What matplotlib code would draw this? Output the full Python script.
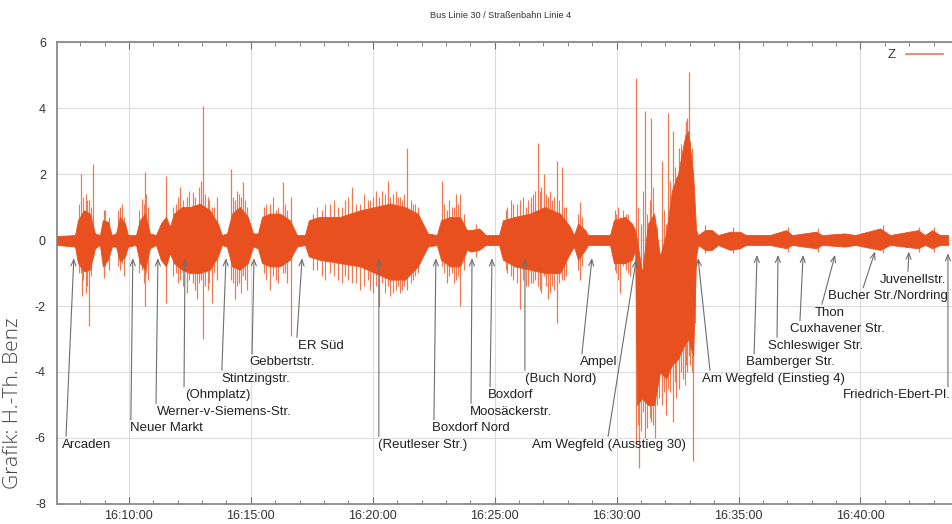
import matplotlib
matplotlib.use("Agg")
import matplotlib.pyplot as plt
from matplotlib.lines import Line2D
from matplotlib.ticker import MultipleLocator, FuncFormatter

plt.rcParams["font.family"] = ["Liberation Sans", "DejaVu Sans"]
plt.rcParams["axes.unicode_minus"] = False

# time axis: minutes after 16:00:00
# envelope of the dense vibration band (Z acceleration)
env_t = [7.05, 7.79, 7.91, 8.15, 8.40, 8.61, 8.81, 8.93, 9.14, 9.30, 9.47, 9.63,
         9.84, 9.96, 10.29, 10.45, 10.66, 10.86, 11.11, 11.31, 11.52, 11.68, 11.85,
         12.17, 12.50, 12.91, 13.32, 13.65, 13.81, 14.02, 14.23, 14.55, 14.88, 15.09,
         15.29, 15.46, 15.78, 16.19, 16.60, 16.89, 17.22, 17.38, 17.83, 18.66, 19.48,
         20.09, 20.71, 21.32, 21.85, 22.26, 22.63, 22.80, 23.17, 23.58, 23.86, 24.03,
         24.36, 24.64, 25.18, 25.34, 25.83, 26.45, 27.06, 27.68, 28.09, 28.25, 28.42,
         28.71, 28.83, 29.73, 29.89, 30.35, 30.63, 30.76, 30.84, 31.04, 31.29, 31.54,
         31.78, 32.03, 32.27, 32.52, 32.77, 32.93, 33.14, 33.26, 33.34, 33.63, 33.91,
         34.16, 34.65, 35.06, 35.31, 36.29, 36.95, 37.20, 38.18, 38.43, 39.37, 39.78,
         40.81, 41.22, 42.36, 42.65, 42.94, 43.27, 43.60]
env_hi = [0.12, 0.15, 0.6, 0.9, 0.8, 0.2, 0.15, 0.6, 0.55, 0.15, 0.2, 0.7,
          0.5, 0.15, 0.15, 0.6, 0.8, 0.2, 0.15, 0.5, 0.7, 0.4, 0.8,
          1.0, 1.0, 1.1, 0.9, 0.5, 0.15, 0.2, 0.8, 1.0, 0.7, 0.2,
          0.2, 0.7, 0.8, 0.8, 0.6, 0.15, 0.15, 0.6, 0.7, 0.7, 0.9,
          1.0, 1.1, 1.0, 0.8, 0.2, 0.15, 0.6, 0.7, 0.7, 0.3, 0.3,
          0.35, 0.15, 0.15, 0.6, 0.7, 0.8, 1.0, 0.8, 0.4, 0.15, 0.5,
          0.3, 0.15, 0.15, 0.6, 0.7, 0.5, 0.3, 0.0, -1.0, 0.5, 0.8,
          -0.5, 0.2, 1.5, 2.0, 3.0, 3.3, 2.0, 0.3, 0.15, 0.3, 0.3,
          0.15, 0.25, 0.25, 0.15, 0.15, 0.3, 0.15, 0.25, 0.15, 0.2, 0.15,
          0.35, 0.15, 0.3, 0.15, 0.3, 0.15, 0.15]
env_lo = [-0.15, -0.2, -0.7, -0.95, -0.9, -0.25, -0.15, -0.8, -0.6, -0.2, -0.2, -0.65,
          -0.5, -0.2, -0.15, -0.7, -0.9, -0.25, -0.15, -0.6, -0.8, -0.4, -0.7,
          -0.9, -1.0, -1.0, -0.9, -0.5, -0.15, -0.2, -0.8, -0.9, -0.7, -0.2,
          -0.25, -0.7, -0.8, -0.8, -0.6, -0.2, -0.15, -0.5, -0.6, -0.7, -0.8,
          -1.0, -1.2, -1.2, -0.8, -0.2, -0.15, -0.6, -0.8, -0.8, -0.3, -0.35,
          -0.3, -0.15, -0.15, -0.6, -0.8, -0.9, -1.0, -1.0, -0.4, -0.2, -0.6,
          -0.3, -0.15, -0.15, -0.7, -0.7, -0.6, -0.3, -5.0, -4.8, -5.0, -5.0,
          -4.0, -4.2, -3.8, -3.6, -3.2, -3.0, -3.5, -0.5, -0.15, -0.3, -0.3,
          -0.15, -0.3, -0.25, -0.15, -0.15, -0.25, -0.15, -0.25, -0.15, -0.2, -0.15,
          -0.3, -0.15, -0.25, -0.15, -0.25, -0.15, -0.15]

# single peaks sticking out of the band
spike_t = [8.03, 8.07, 8.24, 8.36, 8.52, 8.97, 9.18, 9.63, 9.79, 10.53, 10.66, 10.78,
           11.39, 11.52, 11.93, 12.09, 12.38, 12.63, 12.79, 12.95, 13.04, 13.24, 13.40,
           13.61, 14.18, 14.35, 14.51, 14.68, 14.84, 15.54, 15.78, 16.03, 16.32, 16.48,
           16.65, 17.55, 17.92, 18.25, 18.57, 18.86, 19.15, 19.48, 19.80, 20.01, 20.26,
           20.38, 20.62, 20.83, 21.03, 21.20, 21.40, 21.65, 21.85, 22.84, 23.04, 23.25,
           23.41, 23.58, 23.74, 24.23, 25.51, 25.75, 26.04, 26.29, 26.49, 26.65, 26.78,
           26.90, 27.02, 27.19, 27.35, 27.56, 27.76, 27.93, 28.50, 29.98, 30.14, 30.39,
           30.55, 30.80, 30.92, 31.17, 31.41, 31.58, 31.86, 32.03, 32.11, 32.31, 32.56,
           32.72, 32.85, 32.89, 32.97, 33.09, 33.14, 33.63, 34.78, 37.03, 38.26, 40.93,
           42.41, 43.02]
spike_hi = [2.0, 0.8, 1.4, 1.2, 2.3, 0.9, 0.7, 1.0, 0.7, 1.25, 2.05, 1.0,
            0.6, 1.95, 1.1, 1.6, 1.3, 1.45, 1.0, 1.8, 4.05, 1.3, 1.0,
            1.3, 2.15, 1.2, 1.4, 1.75, 1.0, 1.0, 1.1, 0.9, 1.75, 0.9,
            1.3, 0.8, 0.9, 1.1, 1.0, 1.2, 1.6, 1.1, 1.2, 1.3, 1.3,
            1.5, 1.8, 1.4, 1.3, 1.2, 2.8, 1.1, 1.0, 1.8, 0.9, 1.0,
            1.4, 1.4, 0.8, 0.5, 1.0, 1.1, 1.2, 1.0, 1.3, 1.5, 2.95,
            1.6, 2.0, 1.3, 1.2, 2.4, 2.2, 1.0, 1.15, 0.8, 0.7, 0.8,
            0.5, 4.9, -1.0, 3.9, 3.7, 0.5, 2.4, 0.5, 3.85, 3.3, 2.8,
            2.7, 3.6, 3.7, 5.1, 2.8, 1.5, 0.45, 0.4, 0.4, 0.35, 0.45,
            0.4, 0.4]
spike_lo = [-1.0, -1.7, -1.6, -2.6, -0.5, -1.15, -0.9, -0.9, -1.1, -0.9, -2.0, -1.2,
            -0.6, -1.9, -1.0, -1.2, -1.6, -1.3, -1.8, -1.2, -3.0, -1.5, -1.9,
            -1.2, -1.2, -1.8, -1.3, -1.1, -1.5, -1.0, -1.5, -1.2, -1.0, -1.3,
            -2.9, -0.9, -1.1, -1.0, -1.2, -1.1, -1.3, -1.5, -1.2, -1.6, -2.0,
            -1.3, -1.4, -1.6, -1.4, -1.5, -1.5, -1.2, -1.0, -0.8, -1.3, -1.0,
            -1.2, -2.0, -0.9, -0.5, -1.0, -1.2, -2.1, -1.4, -1.3, -1.2, -1.4,
            -1.6, -1.1, -1.8, -1.4, -2.5, -1.2, -1.1, -1.2, -1.0, -1.6, -0.9,
            -1.1, -6.2, -6.9, -6.0, -5.5, -6.0, -5.0, -5.3, -4.5, -5.5, -4.5,
            -4.2, -3.8, -4.0, -3.5, -4.0, -6.7, -0.4, -0.4, -0.35, -0.35, -0.4,
            -0.35, -0.35]

# shorter hairs along the band edges
hair_t = [7.95, 8.12, 8.30, 8.45, 9.03, 9.55, 9.70, 10.40, 10.60, 10.72,
          11.80, 12.00, 12.22, 12.45, 12.70, 12.87, 13.12, 13.30, 13.50,
          14.28, 14.42, 14.60, 14.76, 15.62, 15.90, 16.10, 16.40,
          17.70, 18.05, 18.40, 18.72, 19.00, 19.30, 19.65, 19.90, 20.15, 20.50,
          20.72, 20.95, 21.12, 21.30, 21.55, 21.75, 22.92, 23.12, 23.33, 23.50,
          25.45, 25.65, 25.90, 26.15, 26.38, 26.58, 26.85, 27.10, 27.27, 27.45,
          27.65, 27.85, 28.40, 28.60, 29.92, 30.05, 30.25, 30.47,
          30.86, 31.00, 31.10, 31.23, 31.35, 31.48, 31.65, 31.72, 31.93, 32.18,
          32.40, 32.45, 32.65, 32.80, 33.03, 33.20]
hair_hi = [1.1, 1.3, 1.2, 1.0, 0.9, 0.9, 1.1, 0.9, 1.1, 1.4,
           1.0, 1.3, 1.2, 1.5, 1.3, 1.6, 1.4, 1.2, 1.0,
           1.3, 1.5, 1.3, 1.2, 1.1, 1.3, 1.0, 1.1,
           1.0, 1.1, 1.2, 1.0, 1.3, 1.1, 1.4, 1.2, 1.5, 1.4,
           1.3, 1.5, 1.3, 1.4, 1.2, 1.1, 1.1, 1.2, 1.0, 1.1,
           0.9, 1.2, 1.1, 1.3, 1.2, 1.4, 1.5, 1.4, 1.5, 1.3,
           1.2, 1.0, 0.8, 0.7, 0.9, 1.0, 0.9, 0.8,
           1.0, 0.5, 1.5, 0.8, 1.2, 1.6, 0.4, -0.5, 0.9, 1.8,
           2.2, 1.9, 2.9, 3.2, 3.0, 0.6]
hair_lo = [-1.0, -1.2, -1.4, -1.1, -0.8, -0.8, -0.7, -1.0, -1.3, -1.0,
           -1.1, -1.3, -1.4, -1.2, -1.5, -1.3, -1.4, -1.3, -1.0,
           -1.3, -1.4, -1.6, -1.2, -1.2, -1.1, -1.3, -1.0,
           -0.9, -1.2, -1.1, -1.3, -1.2, -1.3, -1.4, -1.5, -1.4, -1.6,
           -1.7, -1.5, -1.6, -1.4, -1.3, -1.1, -1.0, -1.1, -1.3, -1.1,
           -0.9, -1.1, -1.3, -1.2, -1.4, -1.3, -1.5, -1.4, -1.6, -1.5,
           -1.3, -1.2, -0.9, -0.8, -0.9, -1.2, -0.8, -1.0,
           -5.6, -5.8, -5.2, -5.7, -5.4, -5.6, -5.0, -4.8, -4.6, -4.6,
           -4.3, -4.8, -4.0, -4.4, -3.8, -2.5]

# stops along the route
stops = ["Arcaden", "Neuer Markt", "Werner-v-Siemens-Str.", "(Ohmplatz)",
         "Stintzingstr.", "Gebbertstr.", "ER Süd", "(Reutleser Str.)",
         "Boxdorf Nord", "Moosäckerstr.", "Boxdorf", "(Buch Nord)", "Ampel",
         "Am Wegfeld (Ausstieg 30)", "Am Wegfeld (Einstieg 4)", "Bamberger Str.",
         "Schleswiger Str.", "Cuxhavener Str.", "Thon", "Bucher Str./Nordring",
         "Juvenellstr.", "Friedrich-Ebert-Pl."]
stop_t = [7.74, 10.16, 11.19, 12.30, 13.98, 15.13, 17.10, 20.25, 22.59, 24.07,
          24.89, 26.24, 28.99, 30.80, 33.34, 35.76, 36.62, 37.65, 38.96, 40.60,
          41.99, 43.59]

# label layout (text anchor, arrow start, arrow end height)
lab_x = [7.25, 10.04, 11.15, 12.30, 13.81, 14.96, 16.93, 20.21, 22.43, 23.99,
         24.73, 26.24, 28.50, 26.53, 33.50, 35.31, 36.21, 37.11, 38.14, 38.67,
         40.80, 39.30]
lab_y = [-6.2, -5.7, -5.2, -4.7, -4.2, -3.7, -3.2, -6.2, -5.7, -5.2, -4.7, -4.2,
         -3.7, -6.2, -4.2, -3.7, -3.2, -2.7, -2.2, -1.7, -1.2, -4.7]
tail_x = [7.42, 10.08, 11.11, 12.26, 13.81, 15.05, 16.89, 20.25, 22.51, 24.03,
          24.81, 26.24, 28.58, 29.65, 33.83, 35.64, 36.58, 37.52, 38.42, 40.11,
          41.95, 43.59]
tip_y = [-0.55] * 13 + [-0.6, -0.55, -0.45, -0.45, -0.45, -0.45, -0.35, -0.35, -0.4]

W, H = 952, 524
fig = plt.figure(figsize=(W / 100, H / 100), dpi=100)
ax = fig.add_axes([57 / W, 20 / H, 899 / W, 462 / H])

sig_col = "#e8511f"
hair_col = "#ef7a52"
ax.fill_between(env_t, env_lo, env_hi, color=sig_col, lw=0.6, zorder=3)
ax.vlines(spike_t, spike_lo, spike_hi, color=hair_col, lw=0.9, zorder=2)
ax.vlines(hair_t, hair_lo, hair_hi, color=hair_col, lw=0.8, zorder=2)

for name, t, lx, ly, tx, ty in zip(stops, stop_t, lab_x, lab_y, tail_x, tip_y):
    ax.text(lx, ly, name, fontsize=9.5, color="#222222", va="center", ha="left",
            zorder=5)
    ax.annotate("", xy=(t, ty), xytext=(tx, ly + 0.25),
                arrowprops=dict(arrowstyle="->,head_length=0.45,head_width=0.18",
                                color="#6e6e6e", lw=0.8, shrinkA=0, shrinkB=0),
                zorder=4)

ax.set_xlim(7.05, 43.92)
ax.set_ylim(-8, 6)
ax.xaxis.set_major_locator(MultipleLocator(5))
ax.xaxis.set_minor_locator(MultipleLocator(1))
ax.yaxis.set_major_locator(MultipleLocator(2))
ax.xaxis.set_major_formatter(FuncFormatter(lambda v, p: f"16:{int(round(v)):02d}:00"))
ax.grid(True, which="major", color="#dcdcdc", lw=0.8, zorder=0)
ax.set_axisbelow(True)
ax.tick_params(axis="both", which="both", direction="in", top=True, right=False,
               color="#707070", labelcolor="#333333", labelsize=9)
ax.tick_params(axis="x", which="major", length=5, pad=4)
ax.tick_params(axis="x", which="minor", length=3)
ax.tick_params(axis="y", length=0, pad=8)
for side in ["left", "bottom", "top"]:
    ax.spines[side].set_color("#8a8a8a")
    ax.spines[side].set_linewidth(1.3)
ax.spines["right"].set_visible(False)

ax.legend(handles=[Line2D([], [], color=hair_col, lw=1.2, label="Z")],
          loc="upper right", frameon=False, markerfirst=False, handlelength=2.8,
          fontsize=9.5, bbox_to_anchor=(0.999, 1.01), labelcolor="#333333")

fig.text(501 / W, 1 - 15 / H, "Bus Linie 30 / Straßenbahn Linie 4", ha="center",
         va="center", fontsize=6.6, color="#333333")
fig.text(13 / W, 1 - 403 / H, "Grafik: H.-Th. Benz", rotation=90, ha="center",
         va="center", fontsize=15, color="#444444",
         family=["Open Sans", "DejaVu Sans"], fontweight="light")

fig.savefig("out.png", dpi=100)
